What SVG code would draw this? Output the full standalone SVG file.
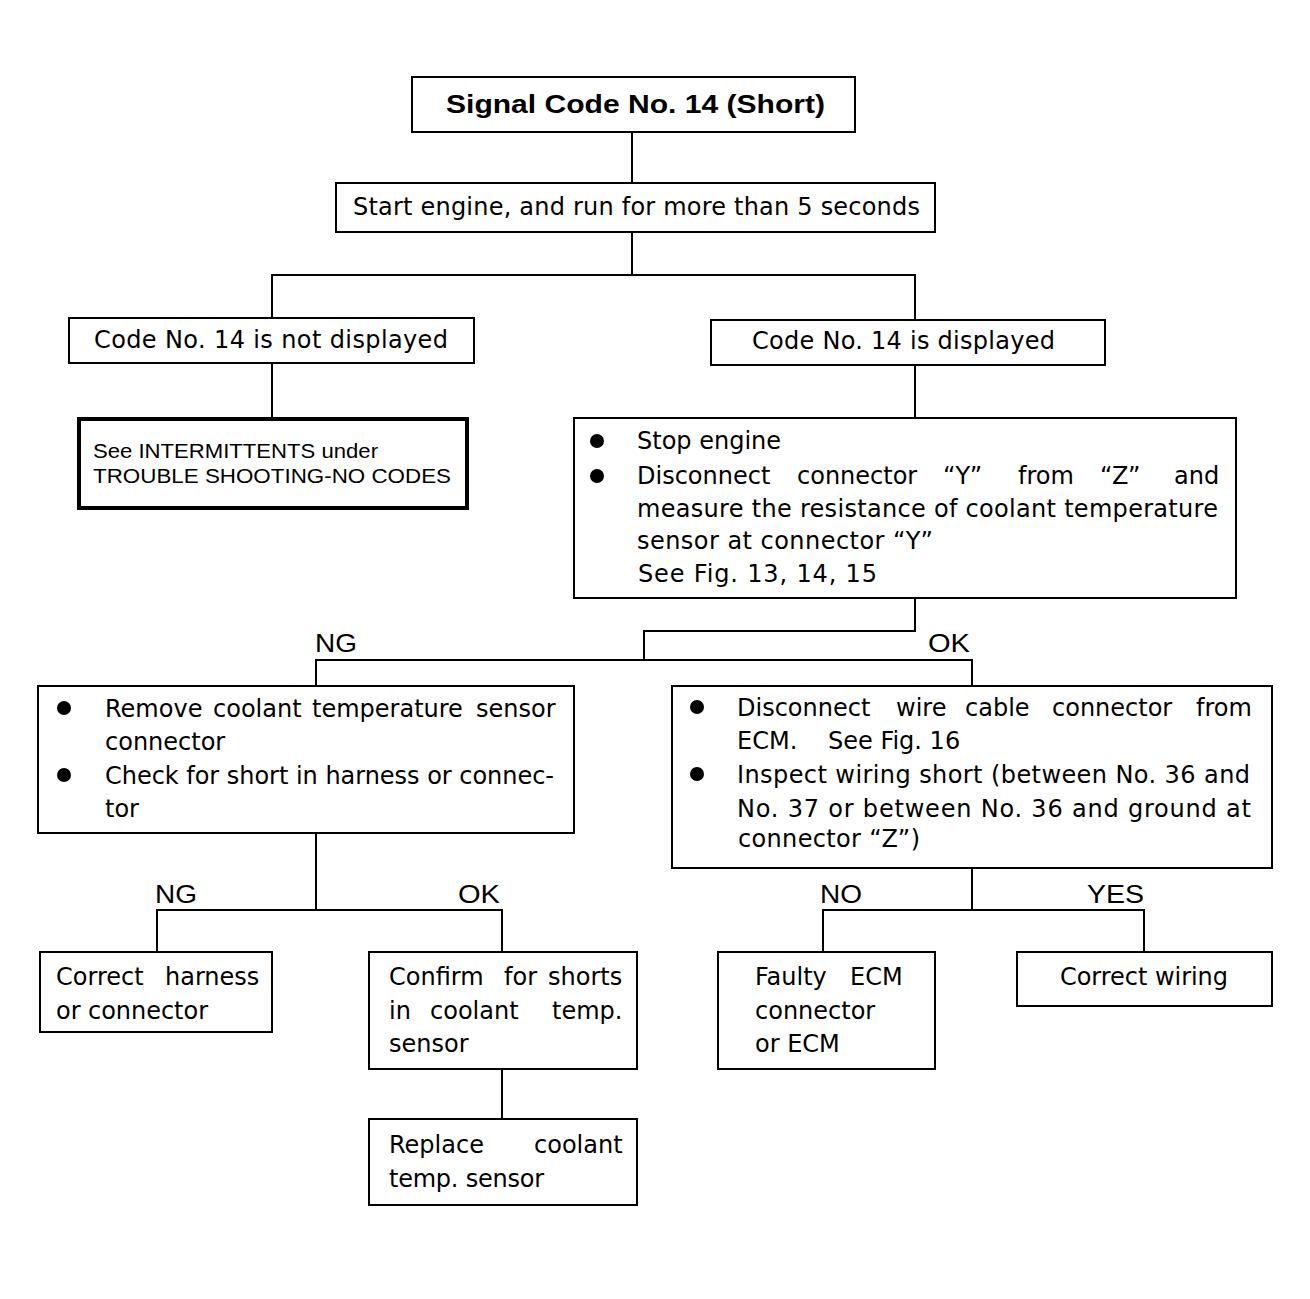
<svg xmlns="http://www.w3.org/2000/svg" width="1310" height="1299" viewBox="0 0 1310 1299">
<style>
  .box { fill: #fff; stroke: #000; stroke-width: 2; }
  .thick { fill: #fff; stroke: #000; stroke-width: 4; }
  .t { font-family: "DejaVu Sans", "Liberation Sans", sans-serif; font-size: 24px; fill: #000; }
  .s { font-family: "Liberation Sans", Arial, sans-serif; font-size: 20px; fill: #000; }
  .b { font-family: "Liberation Sans", Arial, sans-serif; font-size: 25px; font-weight: bold; fill: #000; }
  .lbl { font-family: "Liberation Sans", Arial, sans-serif; font-size: 25px; fill: #000; }
  .conn { fill: none; stroke: #000; stroke-width: 2; }
  .dot { fill: #000; }
</style>
<rect width="1310" height="1299" fill="#fff"/>

<g id="connectors">
  <path class="conn" d="M632,132 V183"/>
  <path class="conn" d="M632,232 V275 M272,318 V275 H915 V320"/>
  <path class="conn" d="M272,363 V418"/>
  <path class="conn" d="M915,365 V418"/>
  <path class="conn" d="M915,598 V631 H644 V660 M316,686 V660 H972 V686"/>
  <path class="conn" d="M316,833 V910 M157,952 V910 H502 V952"/>
  <path class="conn" d="M502,1069 V1119"/>
  <path class="conn" d="M972,868 V910 M823,952 V910 H1144 V952"/>
  <text class="lbl" x="315" y="652" textLength="42" lengthAdjust="spacingAndGlyphs">NG</text>
  <text class="lbl" x="928" y="652" textLength="42" lengthAdjust="spacingAndGlyphs">OK</text>
  <text class="lbl" x="155" y="903" textLength="42" lengthAdjust="spacingAndGlyphs">NG</text>
  <text class="lbl" x="458" y="903" textLength="42" lengthAdjust="spacingAndGlyphs">OK</text>
  <text class="lbl" x="820" y="903" textLength="42" lengthAdjust="spacingAndGlyphs">NO</text>
  <text class="lbl" x="1087" y="903" textLength="57" lengthAdjust="spacingAndGlyphs">YES</text>
</g>

<g id="n1">
  <rect class="box" x="412" y="77" width="443" height="55"/>
  <text class="b" x="446" y="113" textLength="379" lengthAdjust="spacingAndGlyphs">Signal Code No. 14 (Short)</text>
</g>

<g id="n2">
  <rect class="box" x="336" y="183" width="599" height="49"/>
  <text class="t" x="353" y="215" textLength="567" lengthAdjust="spacing">Start engine, and run for more than 5 seconds</text>
</g>

<g id="n3">
  <rect class="box" x="69" y="318" width="405" height="45"/>
  <text class="t" x="94" y="348" textLength="354" lengthAdjust="spacing">Code No. 14 is not displayed</text>
</g>

<g id="n4">
  <rect class="box" x="711" y="320" width="394" height="45"/>
  <text class="t" x="752" y="349" textLength="303" lengthAdjust="spacing">Code No. 14 is displayed</text>
</g>

<g id="n5">
  <rect class="thick" x="79" y="419" width="388" height="89"/>
  <text class="s" x="93" y="458" textLength="285" lengthAdjust="spacingAndGlyphs">See INTERMITTENTS under</text>
  <text class="s" x="93" y="483" textLength="358" lengthAdjust="spacingAndGlyphs">TROUBLE SHOOTING-NO CODES</text>
</g>

<g id="n6">
  <rect class="box" x="574" y="418" width="662" height="180"/>
  <circle class="dot" cx="597" cy="441" r="7"/>
  <circle class="dot" cx="597" cy="476" r="7"/>
  <text class="t" x="637" y="449">Stop engine</text>
  <text class="t" y="484"><tspan x="637">Disconnect</tspan><tspan x="797">connector</tspan><tspan x="943">“Y”</tspan><tspan x="1018">from</tspan><tspan x="1100">“Z”</tspan><tspan x="1174">and</tspan></text>
  <text class="t" x="637" y="517" textLength="581" lengthAdjust="spacing">measure the resistance of coolant temperature</text>
  <text class="t" x="637" y="549" textLength="296" lengthAdjust="spacing">sensor at connector “Y”</text>
  <text class="t" x="638" y="582" textLength="239" lengthAdjust="spacing">See Fig. 13, 14, 15</text>
</g>

<g id="n7">
  <rect class="box" x="38" y="686" width="536" height="147"/>
  <circle class="dot" cx="64" cy="708" r="7"/>
  <circle class="dot" cx="64" cy="775" r="7"/>
  <text class="t" y="717"><tspan x="105">Remove</tspan><tspan x="213">coolant</tspan><tspan x="312">temperature</tspan><tspan x="476">sensor</tspan></text>
  <text class="t" x="105" y="750">connector</text>
  <text class="t" x="105" y="784" textLength="449" lengthAdjust="spacing">Check for short in harness or connec-</text>
  <text class="t" x="105" y="817">tor</text>
</g>

<g id="n8">
  <rect class="box" x="672" y="686" width="600" height="182"/>
  <circle class="dot" cx="697" cy="707" r="7"/>
  <circle class="dot" cx="697" cy="774" r="7"/>
  <text class="t" y="716"><tspan x="737">Disconnect</tspan><tspan x="896">wire</tspan><tspan x="965">cable</tspan><tspan x="1052">connector</tspan><tspan x="1196">from</tspan></text>
  <text class="t" y="749"><tspan x="737">ECM.</tspan><tspan x="828">See Fig. 16</tspan></text>
  <text class="t" x="737" y="783" textLength="513" lengthAdjust="spacing">Inspect wiring short (between No. 36 and</text>
  <text class="t" x="737" y="817" textLength="514" lengthAdjust="spacing">No. 37 or between No. 36 and ground at</text>
  <text class="t" x="738" y="847" textLength="182" lengthAdjust="spacing">connector “Z”)</text>
</g>

<g id="n9">
  <rect class="box" x="40" y="952" width="232" height="80"/>
  <text class="t" y="985"><tspan x="56">Correct</tspan><tspan x="165">harness</tspan></text>
  <text class="t" x="56" y="1019" textLength="152" lengthAdjust="spacing">or connector</text>
</g>

<g id="n10">
  <rect class="box" x="369" y="952" width="268" height="117"/>
  <text class="t" y="985"><tspan x="389">Confirm</tspan><tspan x="504">for</tspan><tspan x="548">shorts</tspan></text>
  <text class="t" y="1019"><tspan x="389">in</tspan><tspan x="430">coolant</tspan><tspan x="552">temp.</tspan></text>
  <text class="t" x="389" y="1052">sensor</text>
</g>

<g id="n11">
  <rect class="box" x="369" y="1119" width="268" height="86"/>
  <text class="t" y="1153"><tspan x="389">Replace</tspan><tspan x="534">coolant</tspan></text>
  <text class="t" x="389" y="1187" textLength="155" lengthAdjust="spacing">temp. sensor</text>
</g>

<g id="n12">
  <rect class="box" x="718" y="952" width="217" height="117"/>
  <text class="t" y="985"><tspan x="755">Faulty</tspan><tspan x="850">ECM</tspan></text>
  <text class="t" x="755" y="1019">connector</text>
  <text class="t" x="755" y="1052">or ECM</text>
</g>

<g id="n13">
  <rect class="box" x="1017" y="952" width="255" height="54"/>
  <text class="t" x="1060" y="985" textLength="168" lengthAdjust="spacing">Correct wiring</text>
</g>
</svg>
